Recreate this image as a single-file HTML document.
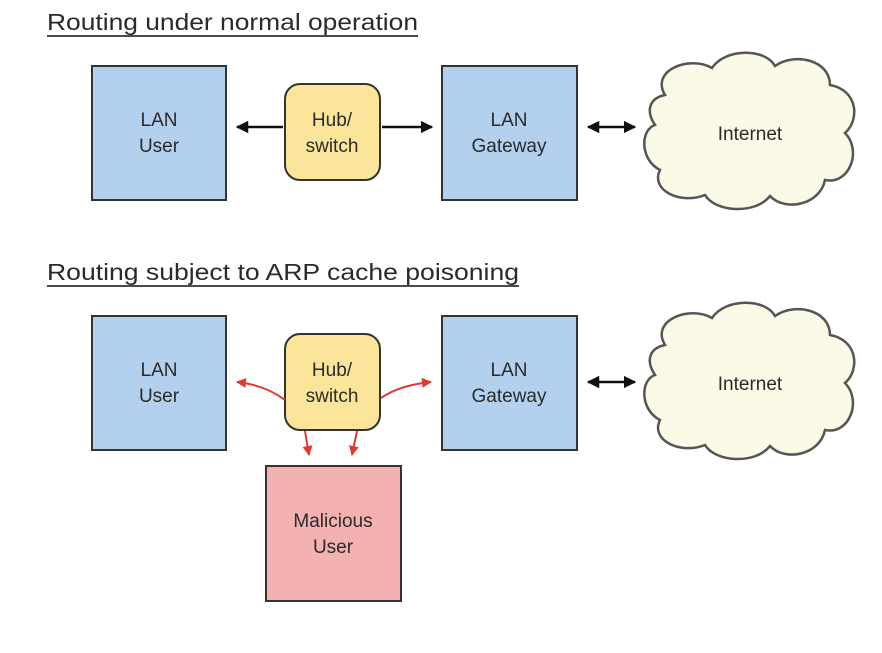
<!DOCTYPE html>
<html><head><meta charset="utf-8"><style>html,body{margin:0;padding:0;background:#fff}svg{display:block}</style></head>
<body>
<svg width="882" height="653" viewBox="0 0 882 653" xmlns="http://www.w3.org/2000/svg" font-family="Liberation Sans, Arial, sans-serif">
<defs>
<marker id="ak" viewBox="0 0 10 10" refX="9" refY="5" markerWidth="5" markerHeight="5" orient="auto-start-reverse"><path d="M0,0 L10,5 L0,10 z" fill="#111"/></marker>
<marker id="ar" viewBox="0 0 10 10" refX="9" refY="5" markerWidth="5" markerHeight="5" orient="auto"><path d="M0,0 L10,5 L0,10 z" fill="#e03a30"/></marker>
<g id="cloud"><path d="M665,95 C650,70 690,55 712,68 C725,48 765,48 775,66 C795,52 830,60 830,85 C858,90 860,120 845,133 C862,150 850,185 825,180 C820,205 785,212 770,196 C755,215 715,212 705,195 C680,205 650,190 660,170 C640,160 640,130 655,125 C645,110 650,98 665,95 Z" fill="#fbfae6" stroke="#555" stroke-width="2.5"/></g>
</defs>
<g fill="#2a2a2a">
<text x="47" y="30" font-size="23" textLength="371" lengthAdjust="spacingAndGlyphs">Routing under normal operation</text>
</g>
<line x1="47" y1="36" x2="418" y2="36" stroke="#333" stroke-width="1.8"/>
<rect x="92" y="66" width="134" height="134" fill="#b3d1ef" stroke="#333" stroke-width="2"/>
<g font-size="19" text-anchor="middle" fill="#2a2a2a">
<text x="159" y="126">LAN</text>
<text x="159" y="152">User</text>
</g>
<rect x="285" y="84" width="95" height="96" rx="15" fill="#fae59b" stroke="#333" stroke-width="2"/>
<g font-size="19" text-anchor="middle" fill="#2a2a2a">
<text x="332" y="126">Hub/</text>
<text x="332" y="152">switch</text>
</g>
<rect x="442" y="66" width="135" height="134" fill="#b3d1ef" stroke="#333" stroke-width="2"/>
<g font-size="19" text-anchor="middle" fill="#2a2a2a">
<text x="509" y="126">LAN</text>
<text x="509" y="152">Gateway</text>
</g>
<use href="#cloud"/>
<text x="750" y="140" font-size="19" text-anchor="middle" fill="#2a2a2a">Internet</text>
<line x1="283" y1="127" x2="237" y2="127" stroke="#111" stroke-width="2.5" marker-end="url(#ak)"/>
<line x1="382" y1="127" x2="432" y2="127" stroke="#111" stroke-width="2.5" marker-end="url(#ak)"/>
<line x1="588" y1="127" x2="635" y2="127" stroke="#111" stroke-width="2.5" marker-start="url(#ak)" marker-end="url(#ak)"/>

<text x="47" y="280" font-size="23" fill="#2a2a2a" textLength="472" lengthAdjust="spacingAndGlyphs">Routing subject to ARP cache poisoning</text>
<line x1="47" y1="286" x2="519" y2="286" stroke="#333" stroke-width="1.8"/>
<rect x="92" y="316" width="134" height="134" fill="#b3d1ef" stroke="#333" stroke-width="2"/>
<g font-size="19" text-anchor="middle" fill="#2a2a2a">
<text x="159" y="376">LAN</text>
<text x="159" y="402">User</text>
</g>
<rect x="285" y="334" width="95" height="96" rx="15" fill="#fae59b" stroke="#333" stroke-width="2"/>
<g font-size="19" text-anchor="middle" fill="#2a2a2a">
<text x="332" y="376">Hub/</text>
<text x="332" y="402">switch</text>
</g>
<rect x="442" y="316" width="135" height="134" fill="#b3d1ef" stroke="#333" stroke-width="2"/>
<g font-size="19" text-anchor="middle" fill="#2a2a2a">
<text x="509" y="376">LAN</text>
<text x="509" y="402">Gateway</text>
</g>
<use href="#cloud" transform="translate(0,250)"/>
<text x="750" y="390" font-size="19" text-anchor="middle" fill="#2a2a2a">Internet</text>
<line x1="588" y1="382" x2="635" y2="382" stroke="#111" stroke-width="2.5" marker-start="url(#ak)" marker-end="url(#ak)"/>
<rect x="266" y="466" width="135" height="135" fill="#f3b1b1" stroke="#333" stroke-width="2"/>
<g font-size="19" text-anchor="middle" fill="#2a2a2a">
<text x="333" y="527">Malicious</text>
<text x="333" y="553">User</text>
</g>
<path d="M285,400 Q265,385 237,382" fill="none" stroke="#e03a30" stroke-width="2" marker-end="url(#ar)"/>
<path d="M381,398 Q400,385 431,382" fill="none" stroke="#e03a30" stroke-width="2" marker-end="url(#ar)"/>
<path d="M305,431 L309,455" fill="none" stroke="#e03a30" stroke-width="2" marker-end="url(#ar)"/>
<path d="M357,431 L352,455" fill="none" stroke="#e03a30" stroke-width="2" marker-end="url(#ar)"/>
</svg>
</body></html>
